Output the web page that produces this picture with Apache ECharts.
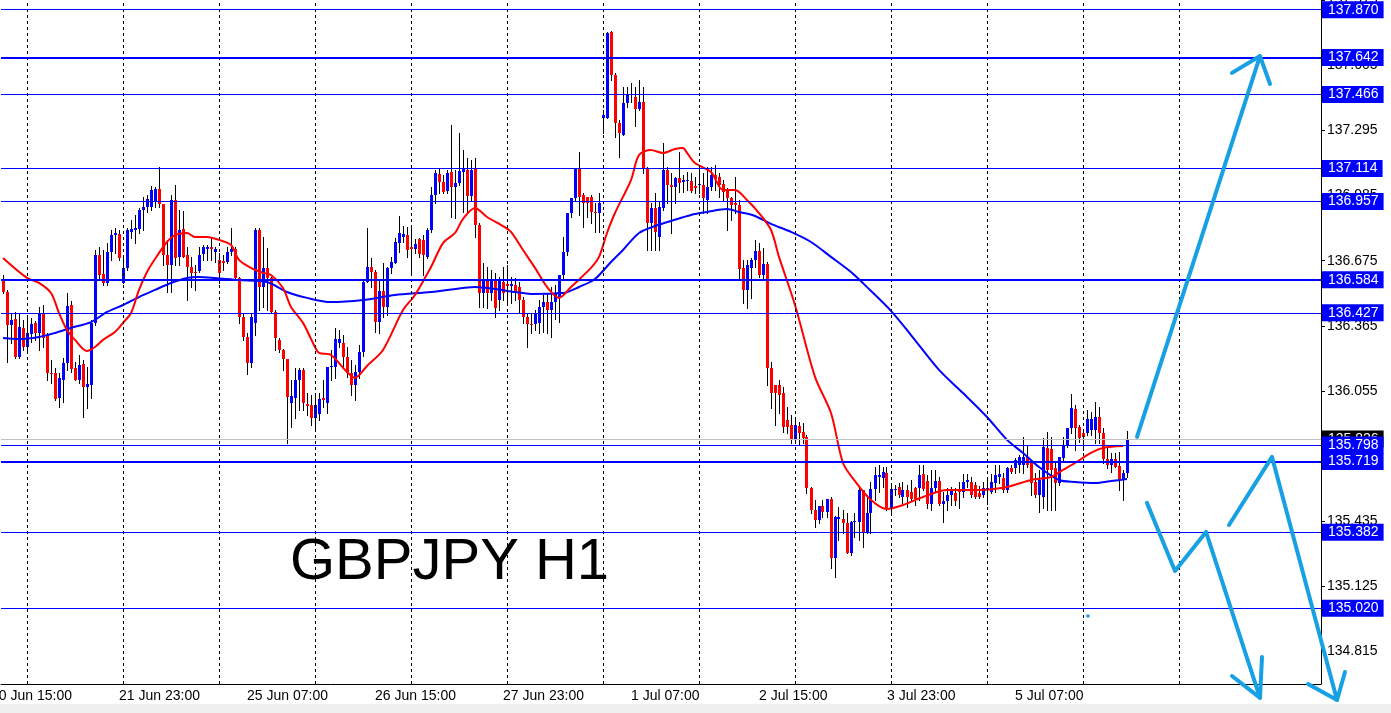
<!DOCTYPE html>
<html><head><meta charset="utf-8">
<script src="https://cdn.jsdelivr.net/npm/echarts@6/dist/echarts.min.js"></script>
<style>html,body{margin:0;padding:0;background:#fff}#c{width:1391px;height:713px}</style>
</head><body><div id="c"></div>
<script>
// ---------- DATA ----------
const openP=[136.583,136.526,136.369,136.398,136.217,136.355,136.264,136.326,136.379,136.331,136.426,136.321,136.141,136.141,136.022,136.107,136.188,136.464,136.164,136.107,136.183,136.074,136.083,136.379,136.702,136.612,136.569,136.716,136.797,136.802,136.569,136.641,136.812,136.821,136.826,136.916,136.931,136.931,136.954,137.016,136.945,136.702,136.655,136.964,136.693,136.826,136.702,136.645,136.621,136.626,136.707,136.731,136.740,136.716,136.679,136.674,136.669,136.716,136.731,136.593,136.407,136.312,136.188,136.379,136.821,136.550,136.641,136.593,136.431,136.298,136.250,136.207,135.998,136.022,136.107,136.155,135.993,135.988,135.926,135.945,136.022,135.998,136.169,136.169,136.283,136.283,136.217,136.141,136.083,136.145,136.240,136.574,136.645,136.621,136.383,136.531,136.455,136.641,136.664,136.759,136.788,136.797,136.740,136.731,136.778,136.774,136.693,136.821,136.988,137.088,137.050,137.007,137.097,137.026,137.045,137.097,137.107,136.983,137.116,136.845,136.521,136.583,136.521,136.583,136.488,136.574,136.564,136.555,136.559,136.550,136.488,136.407,136.374,136.374,136.379,136.455,136.478,136.440,136.478,136.498,136.607,136.716,136.902,136.973,137.116,136.988,136.978,136.978,136.907,136.902,137.354,137.354,137.764,137.559,137.331,137.273,137.426,137.464,137.454,137.397,137.430,137.112,136.855,136.926,136.788,136.926,137.107,137.035,137.026,137.069,137.050,137.054,137.054,137.031,137.035,137.035,136.964,137.026,137.083,137.073,137.040,137.012,136.973,136.950,136.940,136.641,136.536,136.641,136.679,136.721,136.607,136.659,136.164,136.083,136.083,136.045,135.917,135.893,135.822,135.888,135.860,135.836,135.593,135.488,135.441,135.507,135.479,135.541,135.260,135.446,135.446,135.426,135.284,135.431,135.431,135.584,135.384,135.474,135.588,135.645,135.641,135.665,135.498,135.584,135.598,135.550,135.584,135.574,135.593,135.593,135.660,135.626,135.517,135.593,135.626,135.517,135.531,135.560,135.569,135.584,135.574,135.622,135.622,135.607,135.569,135.560,135.584,135.574,135.617,135.645,135.641,135.584,135.688,135.688,135.703,135.703,135.741,135.712,135.622,135.560,135.550,135.784,135.779,135.688,135.617,135.736,135.798,135.879,135.969,135.884,135.855,135.855,135.869,135.869,135.931,135.855,135.731,135.703,135.731,135.698,135.631,135.665];
const highP=[136.607,136.536,136.426,136.431,136.426,136.393,136.402,136.402,136.388,136.455,136.464,136.331,136.203,136.164,136.141,136.212,136.521,136.483,136.193,136.226,136.203,136.169,136.393,136.726,136.740,136.726,136.759,136.821,136.831,136.821,136.702,136.831,136.869,136.893,136.926,136.978,136.988,137.031,137.026,137.121,136.945,136.774,136.988,137.035,136.916,136.912,136.740,136.693,136.655,136.740,136.750,136.750,136.788,136.740,136.712,136.702,136.740,136.831,136.740,136.598,136.426,136.331,136.426,136.831,136.831,136.788,136.736,136.598,136.440,136.307,136.255,136.207,136.107,136.164,136.164,136.164,136.045,136.036,136.031,136.045,136.107,136.169,136.250,136.355,136.345,136.321,136.264,136.203,136.179,136.274,136.583,136.831,136.688,136.631,136.583,136.664,136.645,136.693,136.783,136.888,136.840,136.835,136.835,136.778,136.783,136.797,136.831,137.026,137.107,137.116,137.083,137.107,137.321,137.107,137.283,137.202,137.164,137.154,137.164,136.855,136.664,136.645,136.631,136.617,136.598,136.645,136.655,136.598,136.593,136.574,136.502,136.426,136.426,136.440,136.488,136.512,136.521,136.550,136.559,136.607,136.788,136.902,136.973,137.116,137.192,136.997,136.978,136.988,136.950,136.997,137.392,137.764,137.768,137.569,137.345,137.502,137.502,137.521,137.502,137.535,137.502,137.121,136.950,136.997,136.954,137.235,137.121,137.093,137.073,137.192,137.083,137.097,137.093,137.073,137.121,137.093,137.121,137.121,137.131,137.093,137.059,137.021,136.978,137.073,136.964,136.679,136.679,136.688,136.774,136.759,136.736,136.669,136.193,136.083,136.107,136.074,135.979,135.941,135.917,135.908,135.903,135.845,135.598,135.536,135.507,135.536,135.541,135.550,135.460,135.502,135.488,135.474,135.436,135.474,135.598,135.584,135.560,135.622,135.693,135.703,135.693,135.693,135.617,135.607,135.617,135.622,135.607,135.631,135.598,135.703,135.703,135.655,135.679,135.679,135.645,135.574,135.593,135.598,135.593,135.622,135.660,135.660,135.645,135.622,135.603,135.622,135.631,135.660,135.703,135.703,135.665,135.693,135.703,135.736,135.750,135.836,135.798,135.712,135.665,135.679,135.831,135.860,135.836,135.717,135.741,135.836,135.879,136.041,135.988,135.893,135.860,135.965,135.955,136.003,135.979,135.879,135.784,135.760,135.760,135.765,135.679,135.864];
const lowP=[136.521,136.193,136.283,136.212,136.212,136.250,136.250,136.288,136.298,136.250,136.264,136.107,136.093,136.012,135.979,136.003,136.155,136.145,136.107,136.093,135.931,135.974,136.022,136.369,136.593,136.559,136.559,136.679,136.712,136.679,136.569,136.631,136.783,136.759,136.807,136.821,136.907,136.916,136.931,136.931,136.655,136.526,136.526,136.655,136.655,136.693,136.488,136.550,136.536,136.621,136.679,136.679,136.679,136.669,136.569,136.631,136.664,136.702,136.583,136.379,136.298,136.136,136.169,136.321,136.440,136.455,136.440,136.426,136.250,136.240,136.155,135.807,135.884,135.926,135.965,135.965,135.941,135.893,135.879,135.917,135.979,135.950,136.107,136.117,136.264,136.164,136.121,136.036,136.012,136.117,136.221,136.574,136.550,136.336,136.331,136.407,136.417,136.617,136.664,136.716,136.764,136.693,136.607,136.712,136.693,136.607,136.688,136.812,136.950,136.997,136.997,136.997,136.883,136.878,137.035,136.907,136.907,136.964,136.788,136.455,136.455,136.450,136.488,136.407,136.440,136.488,136.478,136.474,136.488,136.426,136.379,136.264,136.331,136.345,136.331,136.336,136.331,136.312,136.398,136.383,136.583,136.702,136.883,136.964,136.893,136.835,136.883,136.855,136.812,136.812,137.283,137.354,137.535,137.264,137.169,137.273,137.407,137.430,137.316,137.392,137.093,136.726,136.726,136.726,136.726,136.916,136.950,136.807,136.950,137.002,137.002,137.012,137.002,136.997,136.997,136.902,136.902,137.012,137.012,136.978,136.964,136.821,136.869,136.902,136.583,136.474,136.450,136.498,136.645,136.598,136.583,136.083,135.974,135.893,135.950,135.860,135.855,135.807,135.807,135.798,135.807,135.569,135.474,135.407,135.426,135.455,135.455,135.212,135.169,135.346,135.379,135.284,135.274,135.360,135.346,135.312,135.379,135.379,135.536,135.574,135.598,135.488,135.479,135.560,135.550,135.521,135.502,135.536,135.512,135.536,135.584,135.498,135.488,135.574,135.512,135.431,135.488,135.512,135.512,135.498,135.550,135.598,135.550,135.546,135.546,135.550,135.517,135.569,135.574,135.617,135.574,135.574,135.665,135.665,135.669,135.665,135.693,135.560,135.550,135.479,135.498,135.488,135.488,135.488,135.607,135.726,135.788,135.855,135.774,135.812,135.774,135.845,135.845,135.807,135.807,135.712,135.688,135.669,135.693,135.584,135.536,135.645];
const closeP=[136.526,136.369,136.393,136.217,136.360,136.264,136.331,136.374,136.331,136.426,136.307,136.141,136.136,136.017,136.117,136.188,136.459,136.160,136.107,136.179,136.074,136.088,136.379,136.702,136.607,136.569,136.716,136.797,136.807,136.688,136.641,136.821,136.826,136.831,136.916,136.931,136.969,137.012,137.016,136.945,136.702,136.655,136.964,136.688,136.821,136.693,136.645,136.617,136.617,136.702,136.740,136.740,136.731,136.731,136.617,136.664,136.716,136.731,136.593,136.407,136.312,136.188,136.407,136.821,136.550,136.641,136.593,136.431,136.307,136.250,136.207,136.026,136.031,136.107,136.155,135.998,135.984,135.926,135.988,136.017,136.012,136.169,136.174,136.302,136.302,136.217,136.141,136.083,136.145,136.240,136.574,136.645,136.621,136.383,136.531,136.455,136.641,136.669,136.764,136.807,136.802,136.726,136.731,136.755,136.707,136.702,136.821,136.988,137.093,137.050,137.002,137.093,137.026,137.045,137.102,137.116,136.983,137.107,136.845,136.521,136.583,136.521,136.583,136.450,136.583,136.521,136.555,136.564,136.526,136.488,136.407,136.374,136.369,136.426,136.455,136.478,136.440,136.478,136.521,136.607,136.716,136.902,136.973,137.116,136.978,136.950,136.950,136.907,136.902,136.950,137.369,137.759,137.559,137.331,137.283,137.426,137.469,137.469,137.397,137.430,137.112,136.855,136.926,136.812,136.931,137.107,137.035,137.026,137.069,137.045,137.059,137.059,137.007,137.021,137.040,136.973,137.026,137.083,137.064,137.035,137.002,136.973,136.940,136.940,136.636,136.536,136.655,136.679,136.721,136.607,136.659,136.164,136.045,136.045,136.036,135.884,135.884,135.822,135.893,135.855,135.831,135.593,135.488,135.441,135.507,135.479,135.541,135.260,135.455,135.455,135.426,135.284,135.431,135.436,135.584,135.384,135.474,135.588,135.655,135.655,135.669,135.498,135.588,135.588,135.560,135.584,135.550,135.541,135.541,135.655,135.588,135.517,135.593,135.626,135.517,135.531,135.560,135.588,135.531,135.574,135.622,135.631,135.560,135.550,135.550,135.593,135.593,135.622,135.655,135.660,135.584,135.688,135.669,135.726,135.741,135.741,135.703,135.617,135.560,135.631,135.788,135.679,135.679,135.617,135.741,135.798,135.879,135.974,135.879,135.831,135.836,135.922,135.922,135.931,135.855,135.731,135.703,135.731,135.693,135.631,135.665,135.826];

// moving averages: [bar index, price]
const maFast=[[0,136.688],[6,136.593],[9,136.569],[12,136.521],[14,136.426],[16,136.345],[18,136.298],[21,136.245],[23,136.264],[25,136.298],[28,136.336],[30,136.379],[32,136.426],[34,136.536],[36,136.621],[38,136.683],[41,136.764],[43,136.797],[46,136.807],[48,136.788],[51,136.788],[54,136.774],[57,136.750],[59,136.679],[62,136.641],[65,136.617],[67,136.607],[70,136.545],[72,136.455],[75,136.379],[78,136.264],[79,136.236],[82,136.226],[86,136.145],[88,136.117],[91,136.174],[95,136.250],[100,136.440],[103,136.512],[107,136.645],[110,136.759],[113,136.807],[115,136.874],[118,136.926],[121,136.883],[125,136.840],[127,136.812],[130,136.726],[133,136.641],[136,136.550],[139,136.498],[142,136.550],[147,136.641],[149,136.693],[151,136.807],[153,136.902],[157,137.059],[159,137.178],[162,137.202],[165,137.188],[168,137.207],[170,137.212],[171,137.188],[173,137.140],[177,137.097],[180,137.012],[183,137.012],[186,136.964],[189,136.902],[192,136.821],[194,136.693],[198,136.464],[203,136.122],[207,135.950],[210,135.712],[213,135.626],[217,135.536],[221,135.493],[225,135.512],[230,135.550],[236,135.584],[244,135.584],[251,135.598],[257,135.631],[262,135.645],[265,135.679],[268,135.712],[272,135.760],[275,135.784],[280,135.793]];
const maSlow=[[0,136.307],[4,136.302],[9,136.312],[13,136.331],[17,136.355],[22,136.383],[26,136.431],[30,136.464],[34,136.502],[38,136.536],[42,136.569],[46,136.593],[49,136.598],[53,136.593],[59,136.583],[66,136.574],[71,136.526],[76,136.498],[82,136.478],[90,136.488],[98,136.512],[107,136.526],[115,136.545],[118,136.550],[123,136.540],[128,136.526],[132,136.517],[140,136.521],[144,136.550],[148,136.588],[152,136.669],[155,136.726],[159,136.807],[163,136.840],[167,136.864],[172,136.893],[176,136.907],[181,136.921],[184,136.907],[188,136.888],[192,136.850],[197,136.812],[202,136.764],[207,136.693],[212,136.621],[217,136.531],[222,136.436],[227,136.321],[234,136.155],[240,136.045],[246,135.931],[251,135.822],[255,135.760],[259,135.693],[264,135.631],[268,135.622],[273,135.617],[277,135.626],[281,135.636]];

const levels=[137.870,137.642,137.466,137.114,136.957,136.584,136.427,135.798,135.719,135.382,135.020];
const thickLevels=[137.642,136.584,135.719];
const bidPrice=135.826;
const yTickValues=[134.815,135.125,135.435,135.745,136.055,136.365,136.675,136.985,137.295,137.605,137.915];
const labelBars=[29,61,93,125,157,189,221,253];
const firstLabelText='20 Jun 15:00';
const separatorBars=[6,30,54,78,102,126,150,174,198,222,246,270,294];
const titleText='GBPJPY H1';

// hand-drawn annotations: [bar index, price]
const arrowPaths=[
  [[283.5,135.836],[314.25,137.649]],
  [[307.25,137.569],[314.25,137.649],[316.75,137.516]],
  [[286,135.522],[293,135.198],[300.75,135.384],[314.25,134.594]],
  [[307.25,134.698],[314.25,134.594],[314.75,134.789]],
  [[306.5,135.417],[317.25,135.741],[333.5,134.584]],
  [[326.25,134.660],[333.5,134.584],[335.5,134.717]]
];
const dotPoint=[271.25,134.984];

// ---------- categories (hourly bars, weekends skipped) ----------
const N_SLOTS=330;
const months=['Jan','Feb','Mar','Apr','May','Jun','Jul','Aug','Sep','Oct','Nov','Dec'];
const categories=[];
let t=Date.UTC(2019,5,20,18);
for(let i=0;i<N_SLOTS;i++){
  const d=new Date(t);
  categories.push(d.getUTCDate()+' '+months[d.getUTCMonth()]+' '+String(d.getUTCHours()).padStart(2,'0')+':00');
  t+=3600000;
  if(new Date(t).getUTCDay()===6) t+=48*3600000;
}

const candleData=openP.map((o,i)=>[i,o,closeP[i],lowP[i],highP[i]]);
const FONT='Liberation Sans';
const ARROW='#17a0e3';

const chart=echarts.init(document.getElementById('c'),null,{renderer:'canvas'});
const isLabelBar=(idx)=>labelBars.indexOf(idx)>=0;

const series=[
  {type:'line',data:[],z:1,silent:true,
   markLine:{silent:true,symbol:['none','none'],animation:false,label:{show:false},
     lineStyle:{color:'#000',width:1,type:[3,3]},
     data:separatorBars.map(b=>({xAxis:b}))}},
  {type:'custom',z:3,data:candleData,encode:{x:0,y:[1,2,3,4]},clip:true,
   renderItem:function(params,api){
     const i=api.value(0),o=api.value(1),c=api.value(2),l=api.value(3),h=api.value(4);
     const pO=api.coord([i,o]),pC=api.coord([i,c]),pL=api.coord([i,l]),pH=api.coord([i,h]);
     const x=Math.floor(pO[0])+0.5;
     const top=Math.round(Math.min(pO[1],pC[1])),bot=Math.round(Math.max(pO[1],pC[1]));
     return {type:'group',children:[
       {type:'line',shape:{x1:x,y1:Math.round(pH[1]),x2:x,y2:Math.round(pL[1])+1},style:{stroke:'#000',lineWidth:1}},
       {type:'rect',shape:{x:x-1.5,y:top,width:3,height:Math.max(1,bot-top)},style:{fill:c>=o?'#0000ff':'#ff0000',stroke:null}}
     ]};
   }},
  {type:'line',data:maSlow,z:4,showSymbol:false,smooth:0.3,lineStyle:{color:'#0000ff',width:2},silent:true},
  {type:'line',data:maFast,z:4,showSymbol:false,smooth:0.3,lineStyle:{color:'#ff0000',width:2},silent:true},
  {type:'line',data:[],z:5,silent:true,
   markLine:{silent:true,symbol:['none','none'],animation:false,precision:3,
     lineStyle:{color:'#c0c0c0',width:1,type:'solid'},
     label:{show:true,position:'end',distance:1,formatter:p=>Number(p.value).toFixed(3),color:'#fff',backgroundColor:'#000',padding:[2,5,1,6],fontFamily:FONT,fontSize:14,lineHeight:14},
     data:[{yAxis:bidPrice}]}},
  {type:'line',data:[],z:6,silent:true,
   markLine:{silent:true,symbol:['none','none'],animation:false,precision:3,
     label:{show:true,position:'end',distance:1,formatter:p=>Number(p.value).toFixed(3),color:'#fff',backgroundColor:'#0000ff',padding:[2,5,1,6],fontFamily:FONT,fontSize:14,lineHeight:14},
     data:levels.map(v=>({yAxis:v,lineStyle:{color:'#0000ff',type:'solid',width:thickLevels.indexOf(v)>=0?2:1}}))}},
  {type:'custom',xAxisIndex:1,yAxisIndex:0,z:8,clip:false,silent:true,
   data:arrowPaths.map((p,k)=>[k]),encode:{x:0},
   renderItem:function(params,api){
     const path=arrowPaths[params.dataIndex];
     const pts=path.map(q=>api.coord(q));
     const children=[{type:'polyline',shape:{points:pts},style:{stroke:ARROW,lineWidth:4,lineCap:'round',lineJoin:'round',fill:null}}];
     if(params.dataIndex===0){
       const d=api.coord(dotPoint);
       children.push({type:'circle',shape:{cx:d[0],cy:d[1],r:1.8},style:{fill:ARROW}});
     }
     return {type:'group',children:children};
   }}
];

chart.setOption({
  animation:false,
  backgroundColor:'#ffffff',
  grid:{left:1,right:70,top:0,bottom:29,containLabel:false,outerBoundsMode:'none'},
  xAxis:[
    {type:'category',data:categories,boundaryGap:true,
     axisLine:{onZero:false,lineStyle:{color:'#000',width:1}},
     axisTick:{alignWithLabel:true,interval:isLabelBar,length:4,lineStyle:{color:'#000'}},
     axisLabel:{interval:isLabelBar,align:'left',margin:5,color:'#000',fontFamily:FONT,fontSize:14},
     splitLine:{show:false}},
    {type:'value',min:-0.5,max:N_SLOTS-0.5,show:false,axisLine:{onZero:false}}
  ],
  yAxis:{type:'value',position:'right',min:134.660,max:137.916,
    axisLine:{show:true,onZero:false,lineStyle:{color:'#000',width:1}},
    axisTick:{show:true,customValues:yTickValues,length:4,lineStyle:{color:'#000'}},
    axisLabel:{customValues:yTickValues,formatter:v=>v.toFixed(3),color:'#000',fontFamily:FONT,fontSize:14,margin:6},
    splitLine:{show:false}},
  graphic:[
    {type:'rect',left:0,top:704,z:-1,shape:{width:1391,height:9},style:{fill:'#f0f0f0'}},
    {type:'text',z:0,style:{x:-9,y:689,text:firstLabelText,fill:'#000',font:'14px "'+FONT+'"',verticalAlign:'top'}},
    {type:'text',z:0,style:{x:290,y:563,text:titleText,fill:'#000',font:'58px "'+FONT+'"',verticalAlign:'middle'}}
  ],
  series:series
});
</script></body></html>
